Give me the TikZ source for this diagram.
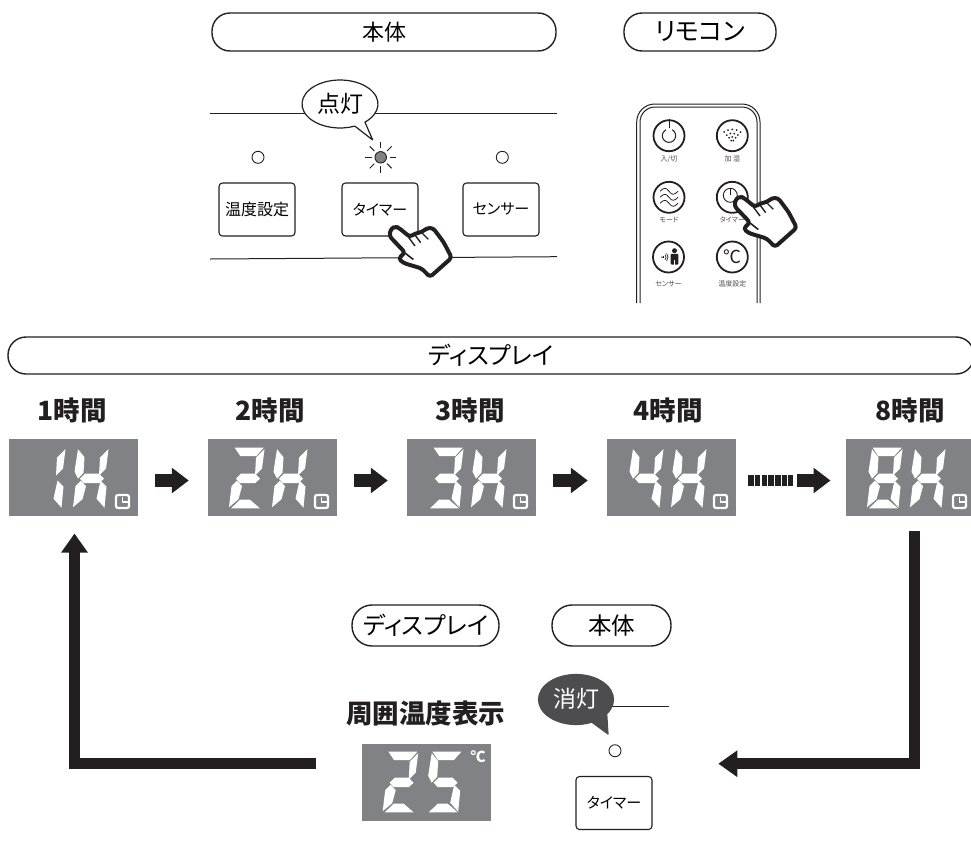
\documentclass[tikz,border=0pt]{standalone}
\usepackage{fontspec}
\setmainfont{Noto Sans CJK JP}[RawFeature=+palt]
\usepackage{xcolor}
\usetikzlibrary{arrows.meta, calc}
\definecolor{cPanel}{RGB}{128,130,133}
\definecolor{cInk}{RGB}{35,31,32}
\definecolor{cDark}{RGB}{77,77,79}
\def\sega{(5.7,0) -- (34.7,0) -- (27.3,8.3) -- (11.3,8.3) -- cycle}
\def\segb{(35.5,1.5) -- (33,21) -- (26,28) -- (27,10) -- cycle}
\def\segc{(27.5,33) -- (33.5,39) -- (31.5,60) -- (23.5,51) -- cycle}
\def\segd{(2,60.7) -- (31,60.7) -- (21,52) -- (11,52) -- cycle}
\def\sege{(8,33) -- (13,38.5) -- (9.5,51.5) -- (0,59.5) -- (2.5,38.5) -- cycle}
\def\segf{(5,1.5) -- (11.5,9.5) -- (10.5,25) -- (5,31) -- (1.5,24) -- cycle}
\def\segg{(7,31) -- (12,26) -- (26,26) -- (31,31) -- (26,35.5) -- (11,35.5) -- cycle}
\tikzset{
	pillbox/.style   ={rectangle, rounded corners=18, draw=cInk, line width=1.4, inner sep=0pt, font=\fontsize{22}{26}\selectfont},
	keybtn/.style    ={rectangle, rounded corners=3.5, draw=cInk, line width=1.1, fill=white, minimum width=76, minimum height=53, inner sep=0pt, font=\fontsize{15}{18}\selectfont},
	ledoff/.style    ={circle, draw=cInk, line width=0.9, minimum size=12, inner sep=0pt},
	panelbox/.style  ={rectangle, fill=cPanel, minimum width=129, minimum height=77, inner sep=0pt},
	headlabel/.style ={font=\fontsize{26.5}{30}\selectfont\bfseries, text=cInk, inner sep=0pt},
	remotekey/.style ={circle, draw=cInk, line width=1.8, minimum size=31, inner sep=0pt},
	remotelabel/.style={font=\fontsize{7}{8}\selectfont, text=cInk!80, inner sep=0pt},
	stepflow/.style  ={-{Triangle[length=17pt, width=24.5pt]}, line width=13, cInk},
	loopflow/.style  ={-{Triangle[length=19pt, width=25.4pt]}, line width=11, cInk, miter limit=10},
	rule/.style      ={draw=cInk, line width=1},
	digit/.pic={
		\foreach \s in {#1} \fill[white] \csname seg\s\endcsname;
	},
	clockmark/.pic={
		\draw[white, line width=2.2, rounded corners=2] (0,0) rectangle (13,13);
		\draw[white, line width=1.8] (6.5,2) -- (6.5,6.6) -- (11.5,6.6);
	},
	handpic/.pic={
		\draw[cInk, fill=white, line width=4, line join=round, rounded corners=3]
			(9.3,16) -- (11,8.5) -- (15.5,6.5) -- (19,8) -- (30,17) -- (35,13.5) -- (42,12) -- (47,8) -- (53,8) -- (63.5,22) -- (71.7,37.7) -- (50,57) -- (41.7,48.5) -- (23.5,43) -- (18.5,38.5) -- (25,32.5) -- cycle;
		\draw[cInk, line width=1.4] (28,16.5) -- (35,26) (35,15) -- (40.7,22.7) (41.7,12.7) -- (48.3,19.3);
		\draw[cInk, line width=1.6] (25,33) -- (33.3,39.5);
	},
}

\begin{document}
\begin{tikzpicture}[x=1pt, y=-1pt]
	\useasboundingbox (0,0) rectangle (971,849);
	% section titles
	\node[pillbox, minimum width=344, minimum height=38] (titleBody) at (384,32) {本体};
	\node[pillbox, minimum width=152, minimum height=38, font=\fontsize{25}{28}\selectfont] (titleRemote) at (700,32) {リモコン};
	\node[pillbox, minimum width=966, minimum height=37, font=\fontsize{24}{28}\selectfont] (titleDisplay) at (491,355.5) {ディスプレイ};
	\node[pillbox, minimum width=147, minimum height=41, rounded corners=20, font=\fontsize{24}{28}\selectfont] (titleDisplayB) at (425.5,625.5) {ディスプレイ};
	\node[pillbox, minimum width=119, minimum height=41, rounded corners=20, font=\fontsize{23.5}{28}\selectfont] (titleBodyB) at (611.5,625.5) {本体};

	% front panel
	\draw[rule] (210,113.3) -- (557,113.3);
	\draw[rule] (210,259) -- (557,256.7);
	\draw[cInk, fill=white, line width=1.2, line join=round] ($(340,104)+(49:38 and 24)$) arc[start angle=49, end angle=-293, x radius=38, y radius=24] -- (372.7,140) -- cycle;
	\node[font=\fontsize{23}{26}\selectfont, inner sep=0pt] (bubbleOn) at (340,104) {点灯};
	\node[ledoff] (ledTemp) at (258,157.3) {};
	\node[circle, draw=cInk, line width=0.9, fill=cPanel, minimum size=11.5, inner sep=0pt] (ledTimer) at (380.7,157.3) {};
	\node[ledoff] (ledSensor) at (502.3,157.3) {};
	\foreach \a in {0,45,...,315} \draw[cInk, line width=1] ($(ledTimer)+(\a:9)$) -- ($(ledTimer)+(\a:15.5)$);
	\node[keybtn, font=\fontsize{16}{18}\selectfont] (keyTemp) at (257,209.5) {温度設定};
	\node[keybtn] (keyTimer) at (380,209.5) {タイマー};
	\node[keybtn] (keySensor) at (501,209.5) {センサー};
	\pic at (380,220) {handpic};

	% remote
	\draw[cInk, line width=1] (636.7,303) -- (636.7,122) arc[start angle=180, end angle=270, radius=18] -- (742,104) arc[start angle=270, end angle=360, radius=18] -- (760,303);
	\draw[cInk, line width=1] (640,303) -- (640,122) arc[start angle=180, end angle=270, radius=15] -- (742,107) arc[start angle=270, end angle=360, radius=15] -- (757,303);
	\foreach \n/\x/\y in {Power/669/135.7, Mist/732.3/135.7, Mode/669/197.3, Clock/732.3/197.3, Person/668.5/257, Degree/732.3/257}
		\node[remotekey] (rk\n) at (\x,\y) {};
	\foreach \n/\x/\y/\t in {Power/669/159.3/{入/切}, Mist/732.3/159.3/加 湿, Mode/669/220/モード, Clock/732.3/220/タイマー, Person/668.5/284.3/センサー, Degree/732.3/284.3/温度設定}
		\node[remotelabel] (rl\n) at (\x,\y) {\t};
	\draw[cInk, line width=1] ($(rkPower)+(-62:6.7)$) arc[start angle=-62, end angle=242, radius=6.7];
	\draw[cInk, line width=1] ($(rkPower)+(0,-7.5)$) -- (rkPower);
	\foreach \r/\m in {3/2, 6.5/3, 10/4, 14/5}
		\foreach \k in {1,...,\m}
			\fill[cInk] ($(rkMist)+(0,7.7)+({-90+(\k-(\m+1)/2)*(90/\m)}:\r)$) circle (1);
	\foreach \d in {-6,0,6}
		\draw[cInk, line width=0.8] ($(rkMode)+(-9,\d)$) .. controls ($(rkMode)+(-5,\d-4)$) and ($(rkMode)+(-3,\d-4)$) .. ($(rkMode)+(0,\d)$) .. controls ($(rkMode)+(3,\d+4)$) and ($(rkMode)+(5,\d+4)$) .. ($(rkMode)+(9,\d)$);
	\draw[cInk, line width=0.9] ($(rkClock)+(-2,-2)$) circle (7);
	\draw[cInk, line width=0.9] ($(rkClock)+(-2,-9)$) -- ($(rkClock)+(-2,-2)$);
	\fill[cInk] ($(rkPerson)+(6,-6.3)$) circle (2.5);
	\fill[cInk, rounded corners=0.8] ($(rkPerson)+(2.2,-3.2)$) rectangle ($(rkPerson)+(9.8,7.5)$);
	\draw[white, line width=0.5] ($(rkPerson)+(6,3)$) -- ($(rkPerson)+(6,8)$);
	\fill[cInk] ($(rkPerson)+(-6.5,0.2)$) circle (0.8);
	\foreach \r in {2,4,6} \draw[cInk, line width=0.7] ($(rkPerson)+(-6.5,0.2)+(-40:\r)$) arc[start angle=-40, end angle=40, radius=\r];
	\node[font=\fontsize{18}{20}\selectfont, inner sep=0pt, text=cInk] (degreeSign) at (rkDegree) {℃};
	\pic at (725,190) {handpic};

	% hour sequence
	\foreach \n/\x/\t in {A/72/1時間, B/270/2時間, C/470/3時間, D/668/4時間, E/910/8時間}
		\node[headlabel] (head\n) at (\x,410) {\t};
	\foreach \n/\x in {A/73.5, B/272.5, C/471.5, D/671.5, E/910.5}
		\node[panelbox] (panel\n) at (\x,477.5) {};
	\pic at (30,447.7) {digit={b,c}};
	\pic at (73,447.7) {digit={f,b,g,e,c}};
	\pic at (229,447.7) {digit={a,b,g,e,d}};
	\pic at (272,447.7) {digit={f,b,g,e,c}};
	\pic at (428,447.7) {digit={a,b,g,c,d}};
	\pic at (471,447.7) {digit={f,b,g,e,c}};
	\pic at (628,447.7) {digit={f,b,g,c}};
	\pic at (671,447.7) {digit={f,b,g,e,c}};
	\pic at (867,447.7) {digit={a,b,c,d,e,f,g}};
	\pic at (910,447.7) {digit={f,b,g,e,c}};
	\foreach \x in {116,315,514,714,953} \pic at (\x,495) {clockmark};
	\foreach \a/\b in {A/B, B/C, C/D}
		\draw[stepflow] ([shift={(17,3)}]panel\a.east) -- ([shift={(-19,3)}]panel\b.west);
	\draw[cInk, line width=11, dash pattern=on 5.5pt off 1.2pt] ([shift={(12,3)}]panelD.east) -- ([shift={(57,3)}]panelD.east);
	\draw[stepflow] ([shift={(60.7,3)}]panelD.east) -- ([shift={(-15.3,3)}]panelE.west);

	% ambient temperature
	\node[headlabel] (headTemp) at (425.5,713) {周囲温度表示};
	\node[panelbox] (panelT) at (426.5,782.5) {};
	\pic at (382.7,751.7) {digit={a,b,g,e,d}};
	\pic at (426.7,751.7) {digit={a,f,g,c,d}};
	\node[font=\fontsize{15}{17}\selectfont\bfseries, text=white, inner sep=0pt] (degreeT) at (478,757) {℃};
	\draw[rule] (612,706.7) -- (669,706.7);
	\draw[cDark, fill=cDark, line width=1.2, line join=round] ($(576,699.5)+(35:37.5 and 25)$) arc[start angle=35, end angle=-295, x radius=37.5, y radius=25] -- (608,734) -- cycle;
	\node[font=\fontsize{23}{26}\selectfont, text=white, inner sep=0pt] (bubbleOff) at (576,699) {消灯};
	\node[ledoff] (ledOff) at (615,750.7) {};
	\node[keybtn] (keyTimerB) at (614,803) {タイマー};

	% return path
	\coordinate (loopRight) at (914.5,763.7);
	\coordinate (loopRightEnd) at (718.3,763.7);
	\coordinate (loopLeftStart) at (315.7,763.7);
	\coordinate (loopLeft) at (74.5,763.7);
	\draw[loopflow] ([shift={(4,15)}]panelE.south) -- (loopRight) -- (loopRightEnd);
	\draw[loopflow] (loopLeftStart) -- (loopLeft) -- ([shift={(1,17.3)}]panelA.south);
\end{tikzpicture}
\end{document}
